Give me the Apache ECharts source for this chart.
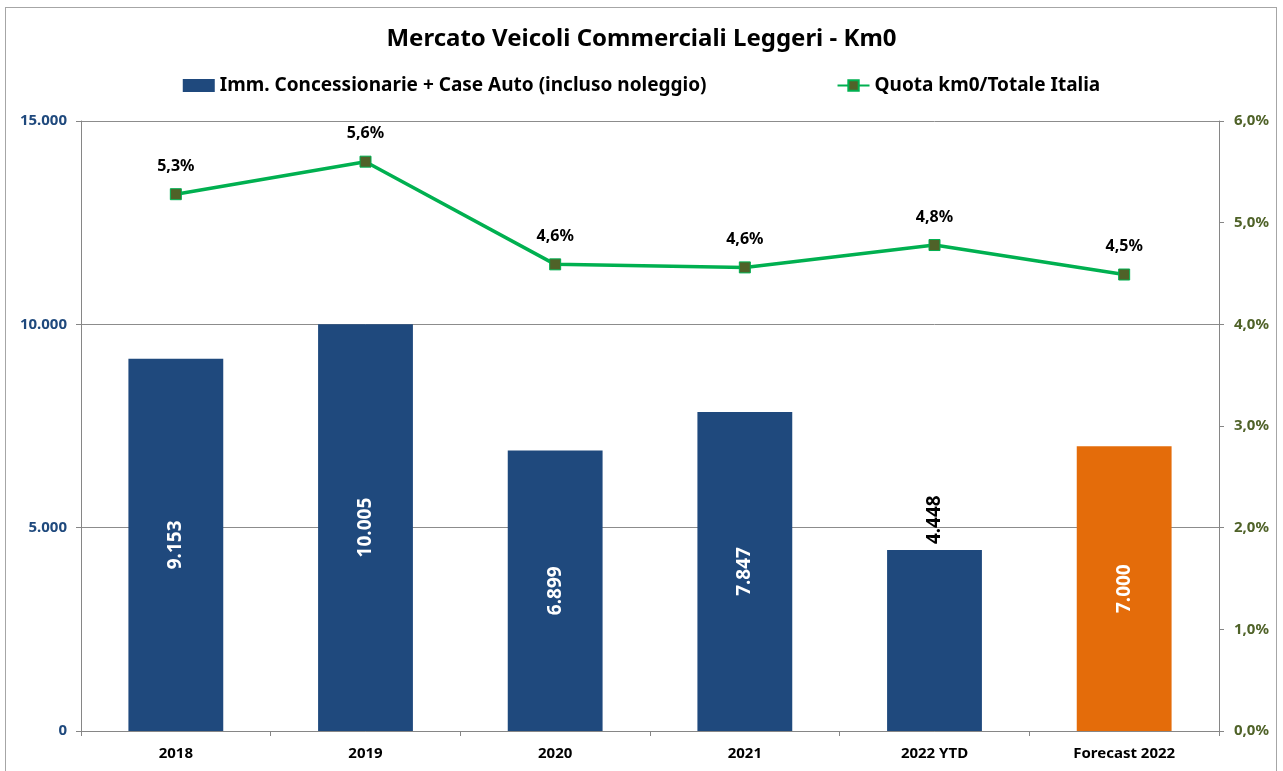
<!DOCTYPE html>
<html>
<head>
<meta charset="utf-8">
<script src="https://cdn.jsdelivr.net/npm/echarts@6/dist/echarts.min.js"></script>
<style>
  html, body { margin: 0; padding: 0; background: #fff; }
  #frame { position: absolute; left: 5px; top: 7px; width: 1272px; height: 770px; border: 1px solid #a6a6a6; box-sizing: border-box; }
  #chart { position: absolute; left: 0; top: 0; width: 1283px; height: 771px; }
</style>
</head>
<body>
<div id="frame"></div>
<div id="chart"></div>
<script>
const categories = ['2018', '2019', '2020', '2021', '2022 YTD', 'Forecast 2022'];
const immatricolazioni = [9153, 10005, 6899, 7847, 4448, 7000];
const quotaKm0 = [5.28, 5.6, 4.59, 4.56, 4.78, 4.49];
const leftTicks = [0, 5000, 10000, 15000];
const rightTicks = [0, 1, 2, 3, 4, 5, 6];

const font = "'Noto Sans', sans-serif";
const thousands = v => String(v).replace(/\B(?=(\d{3})+(?!\d))/g, '.');
const pct = v => v.toFixed(1).replace('.', ',') + '%';

const barData = immatricolazioni.map((v, i) => {
  const item = { value: v };
  if (i === 5) item.itemStyle = { color: '#E46C0A' };
  if (i === 4) item.label = {
    position: 'top', color: '#000', rotate: 90, align: 'left', verticalAlign: 'middle', distance: 6
  };
  return item;
});

const chart = echarts.init(document.getElementById('chart'));
chart.setOption({
  animation: false,
  textStyle: { fontFamily: font },
  title: {
    text: 'Mercato Veicoli Commerciali Leggeri - Km0',
    left: 'center', top: 22,
    textStyle: { fontFamily: font, fontSize: 24, fontWeight: 'bold', color: '#000' }
  },
  legend: {
    top: 71, left: 'center', itemGap: 130, itemWidth: 32, itemHeight: 13,
    textStyle: { fontFamily: font, fontSize: 19, fontWeight: 'bold', color: '#000' },
    data: [
      { name: 'Imm. Concessionarie + Case Auto (incluso noleggio)', icon: 'rect' },
      { name: 'Quota km0/Totale Italia' }
    ]
  },
  grid: { left: 81, right: 64, top: 121, bottom: 40 },
  xAxis: {
    type: 'category',
    data: categories,
    axisLine: { lineStyle: { color: '#868686' } },
    axisTick: { show: true, length: 5, lineStyle: { color: '#868686' } },
    axisLabel: { color: '#000', fontSize: 15, fontWeight: 'bold', margin: 15 }
  },
  yAxis: [
    {
      type: 'value', min: leftTicks[0], max: leftTicks[leftTicks.length - 1], interval: 5000,
      axisLine: { show: true, lineStyle: { color: '#868686' } },
      axisTick: { show: true, length: 5, lineStyle: { color: '#868686' } },
      splitLine: { lineStyle: { color: '#8c8c8c', width: 1 } },
      axisLabel: { color: '#1F497D', fontSize: 15, fontWeight: 'bold', margin: 14, formatter: thousands }
    },
    {
      type: 'value', min: rightTicks[0], max: rightTicks[rightTicks.length - 1], interval: 1,
      axisLine: { show: true, lineStyle: { color: '#868686' } },
      axisTick: { show: true, length: 5, lineStyle: { color: '#868686' } },
      splitLine: { show: false },
      axisLabel: { color: '#4F6228', fontSize: 15, fontWeight: 'bold', margin: 15, formatter: pct }
    }
  ],
  series: [
    {
      name: 'Imm. Concessionarie + Case Auto (incluso noleggio)',
      type: 'bar',
      yAxisIndex: 0,
      barWidth: '50%',
      itemStyle: { color: '#1F497D' },
      label: {
        show: true, position: 'inside', rotate: 90, color: '#fff',
        fontSize: 19, fontWeight: 'bold', fontFamily: font,
        formatter: p => thousands(p.value)
      },
      data: barData
    },
    {
      name: 'Quota km0/Totale Italia',
      type: 'line',
      yAxisIndex: 1,
      symbol: 'rect', symbolSize: 11,
      lineStyle: { color: '#00B050', width: 3.5 },
      itemStyle: { color: '#4F6228', borderColor: '#00B050', borderWidth: 1 },
      label: {
        show: true, position: 'top', distance: 14, color: '#000',
        fontSize: 16, fontWeight: 'bold', fontFamily: font,
        formatter: p => pct(p.value)
      },
      data: quotaKm0
    }
  ]
});
</script>
</body>
</html>
